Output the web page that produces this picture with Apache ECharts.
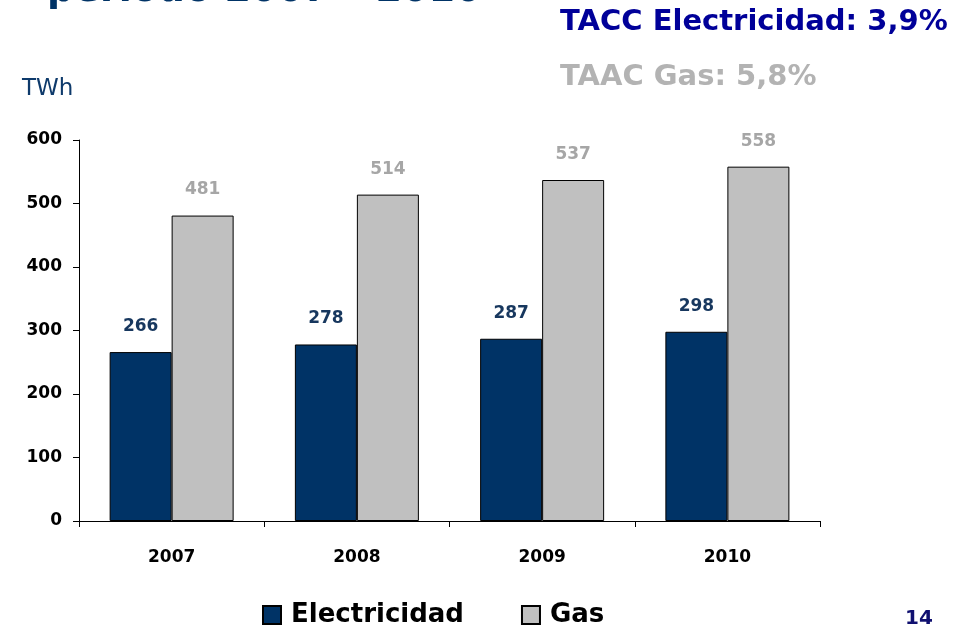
<!DOCTYPE html>
<html>
<head>
<meta charset="utf-8">
<script src="https://cdn.jsdelivr.net/npm/echarts@6/dist/echarts.min.js"></script>
<style>
  html, body { margin: 0; padding: 0; background: #fff; }
  #chart { width: 967px; height: 625px; }
</style>
</head>
<body>
<div id="chart"></div>
<script>
// datos
const anios        = ['2007', '2008', '2009', '2010']
const electricidad = [266, 278, 287, 298]
const gas          = [481, 514, 537, 558]
const nombres      = ['Electricidad', 'Gas']

const azul  = '#003366'
const gris  = '#C0C0C0'
const fuente = '"DejaVu Sans", Verdana, sans-serif'

const chart = echarts.init(document.getElementById('chart'))

chart.setOption({
  animation: false,
  grid: {
    left  : 79,
    right : 147,
    top   : 140,
    bottom: 104
  },
  graphic: [
    { type: 'text', left: 47, top: -28,
      style: { text: 'periodo 2007 – 2010', font: 'bold 38px ' + fuente, fill: azul } },
    { type: 'text', left: 560, top: 8,
      style: { text: 'TACC Electricidad: 3,9%', font: 'bold 29px ' + fuente, fill: '#000099' } },
    { type: 'text', left: 560, top: 63,
      style: { text: 'TAAC Gas: 5,8%', font: 'bold 29px ' + fuente, fill: '#B3B3B3' } },
    { type: 'text', left: 22, top: 78,
      style: { text: 'TWh', font: '23px ' + fuente, fill: '#0E3A6B' } },
    { type: 'text', left: 905, top: 609,
      style: { text: '14', font: 'bold 20px ' + fuente, fill: '#101070' } }
  ],
  legend: {
    data      : nombres,
    left      : 257,
    top       : 597,
    icon      : 'rect',
    itemWidth : 18,
    itemHeight: 18,
    itemGap   : 57,
    textStyle : {
      fontFamily: fuente,
      fontSize  : 26,
      fontWeight: 'bold',
      color     : '#000',
      padding   : [0, 0, 0, 5]
    }
  },
  xAxis: {
    type: 'category',
    data: anios,
    axisLine : { lineStyle: { color: '#000', width: 1 } },
    axisTick : { show: true, length: 6, lineStyle: { color: '#000' } },
    axisLabel: {
      margin    : 28,
      color     : '#000',
      fontFamily: fuente,
      fontSize  : 17,
      fontWeight: 'bold'
    }
  },
  yAxis: {
    type    : 'value',
    min     : 0,
    max     : 600,
    interval: 100,
    splitLine: { show: false },
    axisLine : { show: true, lineStyle: { color: '#000', width: 1 } },
    axisTick : { show: true, length: 6, lineStyle: { color: '#000' } },
    axisLabel: {
      margin    : 17,
      color     : '#000',
      fontFamily: fuente,
      fontSize  : 17,
      fontWeight: 'bold'
    }
  },
  series: [
    {
      name    : nombres[0],
      type    : 'bar',
      data    : electricidad,
      barWidth: 62,
      barGap  : '0%',
      itemStyle: { color: azul, borderColor: '#000', borderWidth: 1 },
      label: {
        show      : true,
        position  : 'top',
        distance  : 17,
        color     : '#17375E',
        fontFamily: fuente,
        fontSize  : 17,
        fontWeight: 'bold'
      }
    },
    {
      name    : nombres[1],
      type    : 'bar',
      data    : gas,
      barWidth: 62,
      barGap  : '0%',
      itemStyle: { color: gris, borderColor: '#000', borderWidth: 1 },
      label: {
        show      : true,
        position  : 'top',
        distance  : 17,
        color     : '#A6A6A6',
        fontFamily: fuente,
        fontSize  : 17,
        fontWeight: 'bold'
      }
    }
  ]
})
</script>
</body>
</html>
